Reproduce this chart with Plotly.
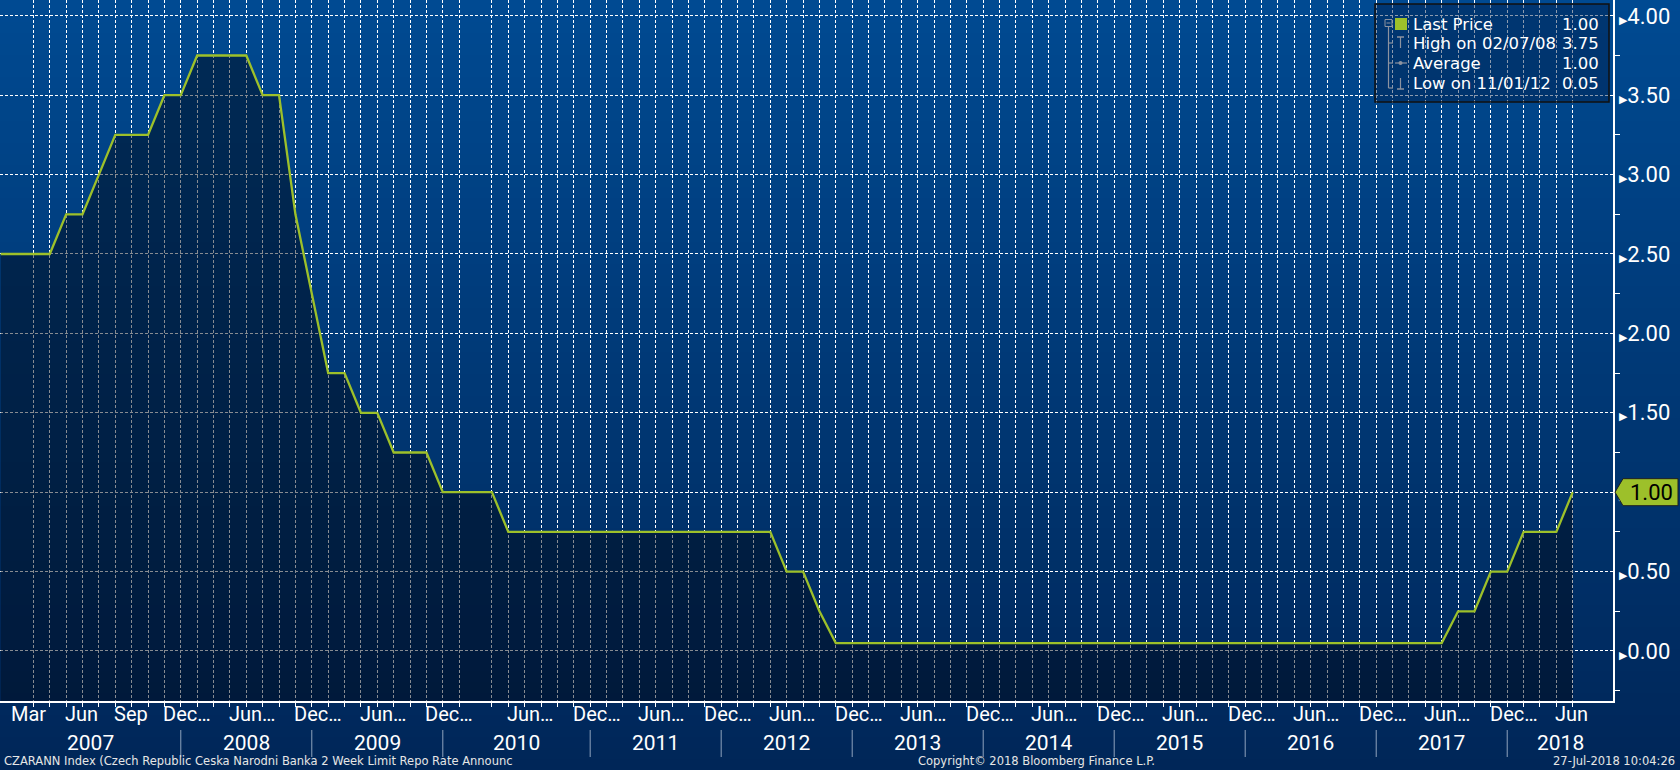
import plotly.graph_objects as go

# ---------------- data ----------------
# CNB 2-week repo rate, one value per observation (announcement) on the index axis
RATE = [
    2.50, 2.50, 2.50, 2.50, 2.75, 2.75, 3.00, 3.25, 3.25, 3.25,
    3.50, 3.50, 3.75, 3.75, 3.75, 3.75, 3.50, 3.50, 2.75, 2.25,
    1.75, 1.75, 1.50, 1.50, 1.25, 1.25, 1.25, 1.00, 1.00, 1.00,
    1.00, 0.75, 0.75, 0.75, 0.75, 0.75, 0.75, 0.75, 0.75, 0.75,
    0.75, 0.75, 0.75, 0.75, 0.75, 0.75, 0.75, 0.75, 0.50, 0.50,
    0.25, 0.05, 0.05, 0.05, 0.05, 0.05, 0.05, 0.05, 0.05, 0.05,
    0.05, 0.05, 0.05, 0.05, 0.05, 0.05, 0.05, 0.05, 0.05, 0.05,
    0.05, 0.05, 0.05, 0.05, 0.05, 0.05, 0.05, 0.05, 0.05, 0.05,
    0.05, 0.05, 0.05, 0.05, 0.05, 0.05, 0.05, 0.05, 0.05, 0.25,
    0.25, 0.50, 0.50, 0.75, 0.75, 0.75, 1.00,
]
OBS = list(range(len(RATE)))

Y_TICKS = [0.0, 0.5, 1.0, 1.5, 2.0, 2.5, 3.0, 3.5, 4.0]

MONTH_LABELS = ["Mar", "Jun", "Sep", "Dec…", "Jun…", "Dec…", "Jun…", "Dec…",
                "Jun…", "Dec…", "Jun…", "Dec…", "Jun…", "Dec…", "Jun…", "Dec…",
                "Jun…", "Dec…", "Jun…", "Dec…", "Jun…", "Dec…", "Jun…", "Dec…", "Jun"]
MONTH_AT = [0.7, 4, 7, 10, 14, 18, 22, 26, 31, 35, 39, 43, 47, 51, 55, 59,
            63, 67, 71, 75, 79, 83, 87, 91, 95]

YEARS = ["2007", "2008", "2009", "2010", "2011", "2012", "2013", "2014",
         "2015", "2016", "2017", "2018"]
YEAR_START = [11, 19, 27, 36, 44, 52, 60, 68, 76, 84, 92]

NO_GRID_AT = [0, 1, 29]

LEGEND_NAMES = ["Last Price", "High on 02/07/08", "Average", "Low on 11/01/12"]
FOOTER_LEFT = "CZARANN Index (Czech Republic Ceska Narodni Banka 2 Week Limit Repo Rate Announc"
FOOTER_MID = "Copyright© 2018 Bloomberg Finance L.P."
FOOTER_RIGHT = "27-Jul-2018 10:04:26"

# ---------------- layout constants ----------------
W, H = 1680, 770
ML, MR, MT, MB = 0, 67, 0, 69
PW, PH = W - ML - MR, H - MT - MB
X_RANGE = [-0.04, 98.46]
Y_RANGE = [-0.315, 4.0995]

LINE = "#9DC02A"
FILL = "rgba(0,8,22,0.47)"
GRID = "white"
AX_FONT = "Roboto, DejaVu Sans, sans-serif"
LEG_FONT = "DejaVu Sans, sans-serif"
TREE = "#8c93a0"


def px_x(p):
    return (p - ML) / PW


def px_y(p):
    return (MT + PH - p) / PH


fig = go.Figure()

# baseline at bottom of the plot so the area fills to the axis
fig.add_trace(go.Scatter(x=OBS, y=[Y_RANGE[0]] * len(OBS), mode="lines",
                         line=dict(width=0, color="rgba(0,0,0,0)"),
                         hoverinfo="skip", showlegend=False))
fig.add_trace(go.Scatter(x=OBS, y=RATE, mode="lines",
                         line=dict(color=LINE, width=2.3),
                         fill="tonexty", fillcolor=FILL, showlegend=False))

# background gradient over the whole page
N = 70
top_c, bot_c = (0, 74, 146), (0, 38, 88)
for k in range(N):
    p0, p1 = k * H / N, (k + 1) * H / N
    t = (k + 0.5) / N
    c = tuple(round(top_c[j] + (bot_c[j] - top_c[j]) * t) for j in range(3))
    fig.add_shape(type="rect", xref="paper", yref="paper",
                  x0=-0.01, x1=1.06, y0=px_y(p1 + 1), y1=px_y(p0 - (1 if k == 0 else 0)),
                  fillcolor="rgb(%d,%d,%d)" % c, line_width=0, layer="below")

grid_ticks = [i for i in OBS if i not in NO_GRID_AT]
fig.update_xaxes(range=X_RANGE, tickmode="array", tickvals=grid_ticks,
                 ticktext=[""] * len(grid_ticks), showticklabels=False,
                 showgrid=True, gridcolor=GRID, griddash="3px,2px", gridwidth=1,
                 ticks="outside", ticklen=4, tickcolor="white", tickwidth=1,
                 showline=True, linecolor="white", linewidth=1.5, zeroline=False,
                 fixedrange=True)

minor_vals = [v - 0.25 for v in Y_TICKS] + [Y_TICKS[-1] + 0.25]
fig.update_yaxes(side="right", range=Y_RANGE, tickmode="array", tickvals=Y_TICKS,
                 ticktext=['<span style="font-size:11px">▶</span>%.2f' % v for v in Y_TICKS],
                 tickfont=dict(family=AX_FONT, size=22, color="white"),
                 showgrid=True, gridcolor=GRID, griddash="3px,2px", gridwidth=1,
                 ticks="", showline=True, linecolor="white", linewidth=1.5,
                 zeroline=False, ticklabelstandoff=0,
                 minor=dict(tickmode="array", tickvals=minor_vals, ticks="outside",
                            ticklen=5, tickcolor="white", showgrid=False),
                 fixedrange=True)

ann = []
# month labels
for lab, at in zip(MONTH_LABELS, MONTH_AT):
    ann.append(dict(x=at, xref="x", y=px_y(714), yref="paper", text=lab,
                    showarrow=False, xanchor="left", yanchor="middle", xshift=-3,
                    font=dict(family=AX_FONT, size=20, color="white")))
# year labels and separators
bounds = [X_RANGE[0]] + YEAR_START + [X_RANGE[1]]
for i, yr in enumerate(YEARS):
    ann.append(dict(x=(bounds[i] + bounds[i + 1]) / 2, xref="x", y=px_y(743),
                    yref="paper", text=yr, showarrow=False, xanchor="center",
                    yanchor="middle", font=dict(family=AX_FONT, size=21, color="white")))
for s in YEAR_START:
    fig.add_shape(type="line", xref="x", yref="paper", x0=s, x1=s,
                  y0=px_y(730), y1=px_y(757), line=dict(color="#8fa3bd", width=1))

# footer
ann.append(dict(x=px_x(2), xref="paper", y=px_y(761), yref="paper", text=FOOTER_LEFT,
                showarrow=False, xanchor="left", yanchor="middle",
                font=dict(family=LEG_FONT, size=11.5, color="#e6e6e6")))
ann.append(dict(x=px_x(1036), xref="paper", y=px_y(761), yref="paper", text=FOOTER_MID,
                showarrow=False, xanchor="center", yanchor="middle",
                font=dict(family=LEG_FONT, size=11.5, color="#e6e6e6")))
ann.append(dict(x=px_x(1677), xref="paper", y=px_y(761), yref="paper", text=FOOTER_RIGHT,
                showarrow=False, xanchor="right", yanchor="middle",
                font=dict(family=LEG_FONT, size=11.5, color="#e6e6e6")))

# last price badge on the axis
last = RATE[-1]
fig.add_shape(type="path", xref="paper", yref="y", xsizemode="pixel", ysizemode="pixel",
              xanchor=1, yanchor=last,
              path="M 2,0 L 10,13.5 L 65,13.5 L 65,-13.5 L 10,-13.5 Z",
              fillcolor=LINE, line=dict(color="#202020", width=1), layer="above")
ann.append(dict(x=1, xref="paper", y=last, yref="y", text="%.2f" % last,
                showarrow=False, xanchor="center", yanchor="middle", xshift=38,
                font=dict(family=AX_FONT, size=22, color="black")))

# legend panel
fig.add_shape(type="rect", xref="paper", yref="paper", x0=px_x(1375), x1=px_x(1609),
              y0=px_y(102), y1=px_y(4), fillcolor="rgba(0,30,75,0.45)",
              line=dict(color="#111111", width=1.5), layer="above")
stats = [RATE[-1], max(RATE), sum(RATE) / len(RATE), min(RATE)]
rows_y = [24, 43, 63, 83]
for name, val, ry in zip(LEGEND_NAMES, stats, rows_y):
    ann.append(dict(x=px_x(1411), xref="paper", y=px_y(ry), yref="paper", text=name,
                    showarrow=False, xanchor="left", yanchor="middle",
                    font=dict(family=LEG_FONT, size=16.5, color="white")))
    ann.append(dict(x=px_x(1601), xref="paper", y=px_y(ry), yref="paper", text="%.2f" % val,
                    showarrow=False, xanchor="right", yanchor="middle",
                    font=dict(family=LEG_FONT, size=16.5, color="white")))

# legend tree icons
def seg(x0, y0, x1, y1, w=1.2):
    fig.add_shape(type="line", xref="paper", yref="paper", x0=px_x(x0), x1=px_x(x1),
                  y0=px_y(y0), y1=px_y(y1), line=dict(color=TREE, width=w), layer="above")

fig.add_shape(type="rect", xref="paper", yref="paper", x0=px_x(1385), x1=px_x(1392),
              y0=px_y(26.5), y1=px_y(19.5), line=dict(color=TREE, width=1), layer="above")
seg(1386.5, 23, 1390.5, 23, 1)
seg(1388.5, 26.5, 1388.5, 88)
for ry in (43, 63):
    seg(1388.5, ry, 1393, ry)
seg(1388.5, 88, 1393, 88)
fig.add_shape(type="rect", xref="paper", yref="paper", x0=px_x(1395), x1=px_x(1407),
              y0=px_y(30), y1=px_y(18), fillcolor=LINE, line_width=0, layer="above")
seg(1397, 37, 1404, 37, 1.5)
seg(1400.5, 37, 1400.5, 48, 1.2)
seg(1395, 63, 1407, 63, 1.2)
fig.add_shape(type="circle", xref="paper", yref="paper", x0=px_x(1398.5), x1=px_x(1402.5),
              y0=px_y(65), y1=px_y(61), fillcolor=TREE, line_width=0, layer="above")
seg(1400.5, 78, 1400.5, 89, 1.2)
seg(1397, 89, 1404, 89, 1.5)

fig.update_layout(
    width=W, height=H, autosize=False,
    margin=dict(l=ML, r=MR, t=MT, b=MB, pad=0),
    paper_bgcolor="rgb(0,38,88)", plot_bgcolor="rgba(0,0,0,0)",
    showlegend=False, annotations=ann, hovermode=False,
)

fig.write_html("out.html",
               config={"displayModeBar": False, "staticPlot": True},
               post_script="document.body.style.margin='0';"
                           "document.body.style.padding='0';"
                           "document.body.style.overflow='hidden';")
